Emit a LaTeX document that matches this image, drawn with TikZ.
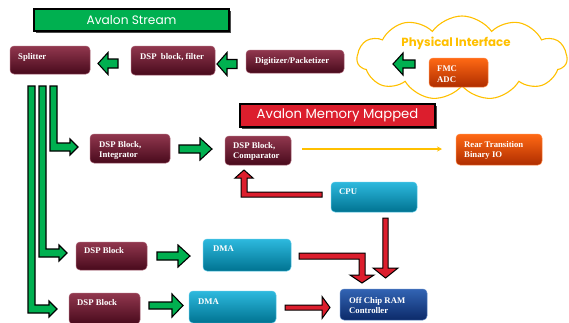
\documentclass[tikz,border=0pt]{standalone}
\usepackage{fontspec}
\setmainfont{Liberation Serif}
\newfontfamily\gothic{Poppins}
\usetikzlibrary{shapes.symbols,arrows.meta}
\definecolor{gr}{RGB}{0,176,80}
\definecolor{rd}{RGB}{220,30,45}
\definecolor{gold}{RGB}{255,192,0}
\definecolor{mtop}{RGB}{145,55,78}
\definecolor{mbot}{RGB}{72,10,28}
\definecolor{ctop}{RGB}{45,185,222}
\definecolor{cbot}{RGB}{0,115,145}
\definecolor{otop}{RGB}{255,105,20}
\definecolor{obot}{RGB}{175,45,0}
\definecolor{btop}{RGB}{50,100,180}
\definecolor{bbot}{RGB}{12,42,105}
\newcommand{\harr}[7]{\draw[#1] ({#2},{#4-#5}) -- ({#3-(#7)},{#4-#5}) -- ({#3-(#7)},{#4-#6}) -- ({#3},{#4}) -- ({#3-(#7)},{#4+#6}) -- ({#3-(#7)},{#4+#5}) -- ({#2},{#4+#5}) -- cycle;}
\newcommand{\varr}[7]{\draw[#1] ({#2-#5},{#3}) -- ({#2-#5},{#4-(#7)}) -- ({#2-#6},{#4-(#7)}) -- ({#2},{#4}) -- ({#2+#6},{#4-(#7)}) -- ({#2+#5},{#4-(#7)}) -- ({#2+#5},{#3}) -- cycle;}
\tikzset{
  boxbase/.style={rectangle, rounded corners=4pt, inner sep=0pt, line width=0.5pt},
  mbox/.style={boxbase, top color=mtop, bottom color=mbot, draw=mtop!80!white},
  cbox/.style={boxbase, top color=ctop, bottom color=cbot, draw=ctop!80!white},
  obox/.style={boxbase, top color=otop, bottom color=obot, draw=otop!80!white},
  bbox/.style={boxbase, top color=btop, bottom color=bbot, draw=btop!80!white},
  lbl/.style={text=white, font=\fontsize{8.7}{10.5}\selectfont\bfseries, inner sep=0pt, align=left, anchor=west},
  banner/.style={rectangle, draw=black, line width=1.2pt, text=white, inner sep=0pt},
  garr/.style={fill=gr, draw=black, line width=1.1pt, line join=miter},
  rarr/.style={fill=rd, draw=black, line width=1pt, line join=miter},
  yarr/.style={draw=gold, line width=1.2pt, -{Stealth[length=5pt,width=5pt]}}
}
\begin{document}
\begin{tikzpicture}[x=1pt,y=-1pt]
\useasboundingbox (0,0) rectangle (569,322);
% banners
\fill[black!70] (36,11) rectangle (231,33);
\node[banner, fill=gr, minimum width=195, minimum height=22, font=\gothic\fontsize{12.2}{13}\selectfont] (avs) at (131.5,20) {Avalon Stream};
\fill[black!70] (242,106) rectangle (437,129);
\node[banner, fill=rd, minimum width=195, minimum height=23, font=\gothic\fontsize{13.2}{14}\selectfont] (avm) at (337.5,115.5) {Avalon Memory Mapped};
% cloud
\node[cloud, cloud puffs=11, cloud puff arc=110, aspect=2.6, draw=gold, line width=1.1pt, minimum width=210, minimum height=84, inner sep=0pt] (cloud) at (462,58) {};
\node[text=gold, inner sep=0pt, font=\gothic\fontsize{11.8}{12}\selectfont\bfseries] (pi) at (456,43) {Physical Interface};
% boxes
\node[mbox, minimum width=80, minimum height=28] (split) at (50,60) {};
\node[mbox, minimum width=84, minimum height=29] (filt) at (173,60.5) {};
\node[mbox, minimum width=98, minimum height=23] (digi) at (295,61.5) {};
\node[obox, minimum width=59, minimum height=29] (fmc) at (458.5,72.5) {};
\node[mbox, minimum width=80, minimum height=29] (integ) at (130,148.5) {};
\node[mbox, minimum width=66, minimum height=29] (comp) at (258,150.5) {};
\node[obox, minimum width=86, minimum height=31] (rear) at (499,149.5) {};
\node[cbox, minimum width=86, minimum height=30] (cpu) at (374,197) {};
\node[mbox, minimum width=71, minimum height=28] (dspm) at (111.5,256) {};
\node[cbox, minimum width=88, minimum height=32] (dmam) at (247,255) {};
\node[mbox, minimum width=71, minimum height=31] (dspb) at (104.5,308.5) {};
\node[cbox, minimum width=87, minimum height=32] (dmab) at (232.5,307) {};
\node[bbox, minimum width=87, minimum height=31] (ram) at (383.5,304.5) {};
% labels
\node[lbl] (tsplit) at (18,57) {Splitter};
\node[lbl] (tfilt) at (140,57) {DSP\ \ block,\ filter};
\node[lbl] (tdigi) at (255,61) {Digitizer/Packetizer};
\node[lbl] (tfmc) at (437,74) {FMC\\ADC};
\node[lbl] (tinteg) at (99,150.5) {DSP Block,\\Integrator};
\node[lbl] (tcomp) at (233,151.5) {DSP Block,\\Comparator};
\node[lbl] (trear) at (464,150.5) {Rear Transition\\Binary IO};
\node[lbl] (tcpu) at (339,192) {CPU};
\node[lbl] (tdspm) at (84,251) {DSP Block};
\node[lbl] (tdmam) at (213,249) {DMA};
\node[lbl] (tdspb) at (77,303) {DSP Block};
\node[lbl] (tdmab) at (198,302) {DMA};
\node[lbl] (tram) at (349,305.5) {Off Chip RAM\\Controller};
% green block arrows
\harr{garr}{118}{98}{63.5}{4.5}{11}{-10}
\harr{garr}{237}{217}{64}{4.5}{11.5}{-10}
\harr{garr}{415}{393}{64}{4}{11}{-10}
\harr{garr}{179}{212}{149}{4}{11}{12}
\harr{garr}{157}{190}{256}{4}{11}{12}
\harr{garr}{149}{183}{305.5}{3.5}{11.5}{11}
% green bent arrows from splitter
\draw[garr] (50,86) -- (57,86) -- (57,143) -- (70,143) -- (70,139) -- (78,147) -- (70,155) -- (70,151) -- (50,151) -- cycle;
\draw[garr] (39,86) -- (46,86) -- (46,249) -- (59,249) -- (59,245) -- (67,253) -- (59,261) -- (59,257) -- (39,257) -- cycle;
\draw[garr] (28,86) -- (35,86) -- (35,305) -- (49,305) -- (49,301) -- (57,309) -- (49,317) -- (49,313) -- (28,313) -- cycle;
% red arrows
\draw[rarr] (322,192) -- (247,192) -- (247,178) -- (253,178) -- (244,170) -- (235,178) -- (241,178) -- (241,197) -- (322,197) -- cycle;
\varr{rarr}{385.5}{218}{278}{2.7}{12.5}{10}
\draw[rarr] (299,253) -- (365,253) -- (365,275) -- (374,275) -- (362,283) -- (350,275) -- (359,275) -- (359,259) -- (299,259) -- cycle;
\harr{rarr}{285}{330}{307.5}{2.5}{11}{8}
% yellow arrow
\draw[yarr] (comp.east |- 0,149) ++(11,0) -- (442,149);
\end{tikzpicture}
\end{document}
